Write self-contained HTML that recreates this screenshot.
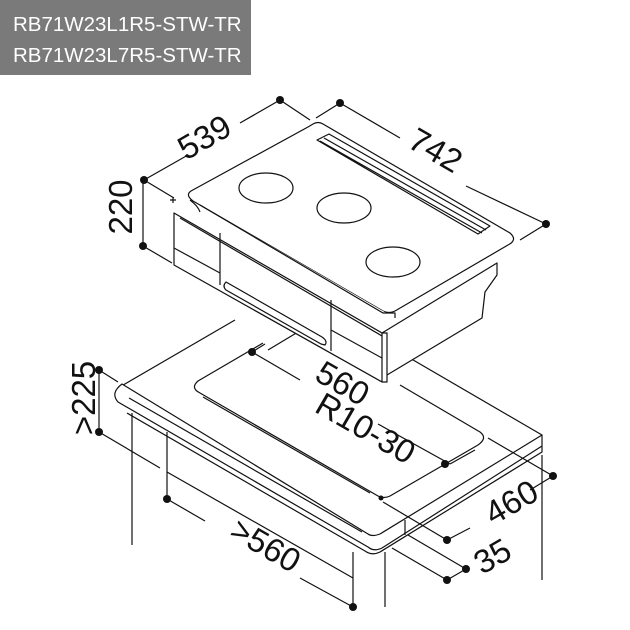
<!DOCTYPE html>
<html><head><meta charset="utf-8"><style>
html,body{margin:0;padding:0;background:#fff;width:630px;height:630px;overflow:hidden}
svg{display:block}
</style></head><body>
<svg width="630" height="630" viewBox="0 0 630 630" xmlns="http://www.w3.org/2000/svg">
<rect x="0" y="0" width="251" height="75" fill="#7a7a7a"/>
<text x="13" y="31" font-family="Liberation Sans, sans-serif" font-size="20.5" fill="#fff">RB71W23L1R5-STW-TR</text>
<text x="13" y="62" font-family="Liberation Sans, sans-serif" font-size="20.5" fill="#fff">RB71W23L7R5-STW-TR</text>

<g fill="none" stroke="#111" stroke-width="1.2" stroke-linejoin="round">
<path d="M118,388 L235,320 M408,357 L542,435 M385,363 L463,320"/>
<path d="M122,384 Q110,393 118,402 L368,547 Q374,552 382,548 L542,446 L542,435 L380,534 Q372,537 368,534 Z" fill="#fff"/>
<path d="M127,413 L365,551 Q372,556 380,552 L542,452 L542,446"/>
<path d="M129,398 L362,532"/>
<path d="M405,520 L405,535"/>
<path d="M263,343 L198,381 Q190,388 200,393 L378,496 Q384,499 390,496 L478,445 Q488,438 480,432 L400,385"/>
<path d="M203,397 L370,493"/>
<path d="M132,413 L132,545 M167,432 L167,500 M167,472 L353,578 M353,552 L353,607 M385,552 L385,607 M542,455 L542,580"/>
<path d="M99,370 L99,432 M99,370 L118,382 M99,432 L160,468"/>
<path d="M252,352 L300,380 M252,352 L265,344 M378,424 L450,464 M450,464 L475,450"/>
<path d="M268,350 L298,332"/>
<path d="M383,502 L447,540 M447,540 L470,528 M530,490 L553,476 M488,438 L553,476"/>
<path d="M408,535 L466,569 M392,548 L447,580 M447,580 L466,569"/>
<path d="M167,499 L205,521 M300,578 L353,607"/>
</g>
<g fill="#111">
<circle cx="99" cy="370" r="4"/><circle cx="99" cy="432" r="4"/>
<circle cx="252" cy="352" r="4"/><circle cx="445" cy="464" r="4"/>
<circle cx="381" cy="498" r="2.5"/>
<circle cx="553" cy="476" r="4"/><circle cx="447" cy="540" r="4"/>
<circle cx="466" cy="569" r="4"/><circle cx="447" cy="580" r="4"/>
<circle cx="167" cy="499" r="4"/><circle cx="353" cy="607" r="4"/>
</g>

<g fill="#fff" stroke="#111" stroke-width="1.2" stroke-linejoin="round">
<path d="M382,333 L497,263 L497,275 L485,292 L482,318 L387,375 Z"/>
<path d="M174,213 L382,333 L387,333 L387,382 L382,382 L174,265 Z"/>
<path d="M382,333 L382,382"/>
<path d="M174,248 L220,273 M220,233 L220,285 M331,300 L331,351 M331,330 L382,358 M180,218 L382,336"/>
<path d="M226,282 L322,337 Q328,341 325,345 L321,344 L226,290 Q222,286 226,282 Z"/>
<path d="M313,124 Q318,121 323,124 L510,233 Q518,240 508,245 L395,311 Q389,314 383,311 L193,201 Q185,195 191,191 L308,127 Z"/>
<path d="M190,200 Q198,206 200,212 M200,205 L383,313 L395,313 L395,318"/>
<path d="M317,140 L329,134 L490,226 L478,234 Z M320,141 L482,233 M324,138 L486,230"/>
<ellipse cx="266" cy="188" rx="27" ry="15"/>
<ellipse cx="344" cy="208" rx="27" ry="15"/>
<ellipse cx="393" cy="262" rx="27" ry="15"/>
</g>
<g fill="none" stroke="#111" stroke-width="1.2">
<path d="M280,100 L240,123 M188,155 L144,180 M144,180 L174,198 M143,180 L143,246 M143,246 L172,263"/>
<path d="M280,100 L310,120 M340,103 L316,118 M340,103 L400,138 M466,186 L546,224 M546,224 L520,240"/>
<path d="M170,200 L176,200 M173,197 L173,203"/>
</g>
<g fill="#111">
<circle cx="280" cy="100" r="4"/><circle cx="340" cy="103" r="4"/>
<circle cx="546" cy="224" r="4"/><circle cx="144" cy="180" r="4"/><circle cx="143" cy="246" r="4"/>
</g>

<g font-family="Liberation Sans, sans-serif" font-size="33" fill="#111" text-anchor="middle">
<text transform="translate(210,147) rotate(-30)">539</text>
<text transform="translate(430,160) rotate(30)">742</text>
<text transform="translate(132,207) rotate(-90)">220</text>
<text transform="translate(95,398) rotate(-90)">&gt;225</text>
<text transform="translate(337,393) rotate(30)">560</text>
<text transform="translate(360,438) rotate(30)">R10-30</text>
<text transform="translate(517,512) rotate(-30)">460</text>
<text transform="translate(498,566) rotate(-30)">35</text>
<text transform="translate(260,555) rotate(30)">&gt;560</text>
</g>
</svg>
</body></html>
